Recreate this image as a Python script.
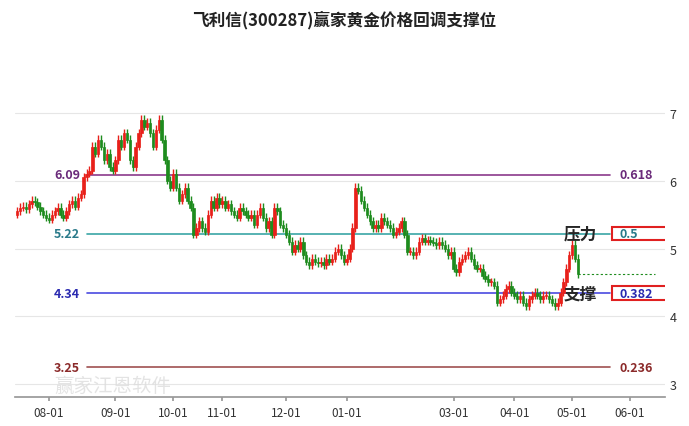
import numpy as np, pandas as pd, matplotlib
matplotlib.use("Agg")
import matplotlib.pyplot as plt, seaborn as sns
from matplotlib.patches import Rectangle
import matplotlib.transforms as mt

sns.set_theme(style="white")
plt.rcParams['font.family'] = ['Noto Sans CJK SC', 'DejaVu Sans']

closes = [5.55,5.6,5.62,5.58,5.65,5.7,5.68,5.62,5.55,5.5,5.45,
 5.42,5.5,5.55,5.6,5.5,5.45,5.55,5.65,5.7,5.62,5.75,5.8,6.05,6.1,6.15,6.5,6.4,6.6,6.5,6.3,6.4,6.2,6.15,
 6.3,6.6,6.5,6.7,6.6,6.3,6.2,6.5,6.7,6.9,6.8,6.85,6.7,6.5,6.75,6.9,6.6,6.3,6.0,5.9,
 6.1,5.9,5.7,5.8,5.9,5.7,5.6,5.2,5.3,5.4,5.3,5.25,5.5,5.7,5.6,5.75,5.65,
 5.7,5.6,5.65,5.55,5.5,5.45,5.6,5.55,5.5,5.45,5.5,5.35,5.5,5.6,5.45,5.3,5.4,5.2,5.6,5.55,5.35,5.3,
 5.2,5.1,4.95,5.05,5.0,5.1,4.9,4.8,4.75,4.85,4.8,4.78,4.8,4.75,4.85,4.8,4.85,4.95,5.0,4.9,4.8,
 4.85,5.0,5.3,5.9,5.85,5.7,5.6,5.5,5.4,5.3,5.35,5.3,5.45,5.4,5.35,5.3,5.2,5.25,5.3,5.4,5.2,4.95,
 4.95,4.9,4.95,5.1,5.15,5.1,5.12,5.1,5.08,5.05,5.1,5.05,5.0,4.9,4.95,
 4.7,4.65,4.8,4.85,4.9,4.95,4.85,4.75,4.7,4.7,4.6,4.55,4.5,4.5,4.45,4.2,4.25,4.3,4.4,4.45,4.35,
 4.3,4.25,4.3,4.2,4.15,4.25,4.3,4.35,4.3,4.25,4.3,4.3,4.25,4.2,4.15,4.2,4.35,4.5,4.7,
 4.9,5.05,4.85,4.62]
first_open = 5.5
levels = [6.09, 5.22, 4.34, 3.25]
ratios = ["0.618", "0.5", "0.382", "0.236"]
level_colors = ["#8B3A8B", "#3AA6A6", "#4A4AE0", "#A05050"]
text_colors = ["#6A2A7A", "#2A7A8A", "#2A2AB0", "#8B2A2A"]
month_labels = ["08-01","09-01","10-01","11-01","12-01","01-01","03-01","04-01","05-01","06-01"]

hol = pd.to_datetime(["2023-09-29","2023-10-02","2023-10-03","2023-10-04","2023-10-05","2023-10-06",
 "2024-01-01","2024-02-09","2024-02-12","2024-02-13","2024-02-14","2024-02-15","2024-02-16",
 "2024-04-04","2024-04-05","2024-05-01","2024-05-02","2024-05-03"])
days = pd.bdate_range("2023-07-17", "2024-06-30")
days = days[~days.isin(hol)]
opens = [first_open] + closes[:-1]
df = pd.DataFrame({"x": np.arange(len(closes)), "open": opens, "close": closes})
df["up"] = df.close >= df.open
df["hi"] = df[["open","close"]].max(axis=1) + 0.07
df["lo"] = df[["open","close"]].min(axis=1) - 0.05

tick_pos = []
for m in month_labels:
    mm = int(m[:2]); yy = 2024 if mm < 7 else 2023
    tick_pos.append(int(np.searchsorted(days, pd.Timestamp(yy, mm, 1))))

fig = plt.figure(figsize=(6.89, 4.27), dpi=100)
ax = fig.add_axes([0.022, 0.068, 0.943, 0.70])
jun = tick_pos[-1]
s = (630 - 17) / jun
ax.set_xlim(-0.7, jun + 35 / s)
ax.set_ylim(2.81, 7.22)

red, green = "#E8201A", "#1E8C1E"
for _, r in df.iterrows():
    c = red if r.up else green
    ax.vlines(r.x, r.lo, r.hi, color=c, lw=1.0, zorder=3)
    ax.bar(r.x, max(abs(r.close - r.open), 0.015), bottom=min(r.open, r.close), width=0.85,
           color=c, edgecolor=c, lw=0.5, zorder=3)

sns.lineplot(x=[len(closes)-1, jun + 25 / s], y=[closes[-1]]*2, ax=ax, color=green, lw=0.8, ls=(0,(2,2)))

tr = mt.blended_transform_factory(ax.transAxes, ax.transData)
for lv, rt, lc, tc in zip(levels, ratios, level_colors, text_colors):
    ax.plot([0.11, 0.915], [lv, lv], transform=tr, color=lc, lw=1.2, zorder=2)
    ax.text(0.10, lv, f"{lv:.2f}", transform=tr, color=tc, fontsize=9, fontweight="bold", ha="right", va="center")
    ax.text(0.93, lv, rt, transform=tr, color=tc, fontsize=9, fontweight="bold", ha="left", va="center")
for lv in [5.22, 4.34]:
    ax.add_patch(Rectangle((0.918, lv - 0.1), 0.09, 0.2, transform=tr, fill=False, ec="#E02020", lw=1.5, zorder=4))
ax.text(0.895, 5.22, "压力", transform=tr, fontsize=12, fontweight="bold", ha="right", va="center", zorder=5)
ax.text(0.895, 4.34, "支撑", transform=tr, fontsize=12, fontweight="bold", ha="right", va="center", zorder=5)

ax.yaxis.tick_right()
ax.set_yticks([3,4,5,6,7])
ax.tick_params(axis="y", length=0, labelsize=9, colors="#333333")
ax.grid(axis="y", color="#E6E6E6", lw=0.8)
ax.set_xticks(tick_pos)
ax.set_xticklabels(month_labels, fontsize=8.5, color="#333333")
ax.tick_params(axis="x", length=3, color="#999999", bottom=True)
for sp in ["top", "right", "left"]:
    ax.spines[sp].set_visible(False)
ax.spines["bottom"].set_color("#999999")
ax.text(0.06, 0.02, "赢家江恩软件", transform=ax.transAxes, fontsize=14, color="#DDDDDD", alpha=0.8, zorder=1)
fig.suptitle("飞利信(300287)赢家黄金价格回调支撑位", y=0.975, fontsize=12, fontweight="bold", color="#222222")
fig.savefig("out.png", dpi=100)
